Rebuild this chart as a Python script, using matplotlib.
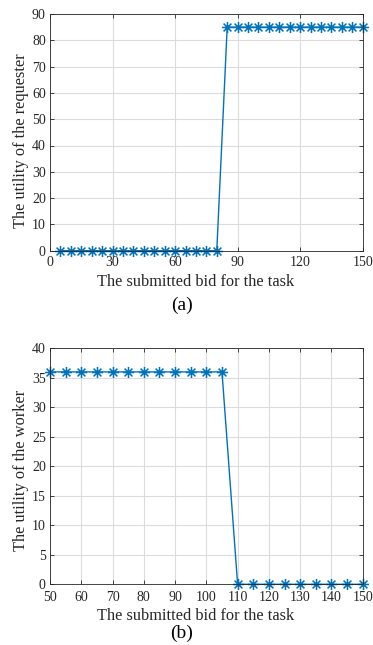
import matplotlib
matplotlib.use("Agg")
import matplotlib.pyplot as plt
from matplotlib.path import Path

plt.rcParams['font.family'] = ['Liberation Serif', 'DejaVu Serif']
plt.rcParams['mathtext.fontset'] = 'stix'

# Panel (a)
bid_a = [5, 10, 15, 20, 25, 30, 35, 40, 45, 50, 55, 60, 65, 70, 75, 80,
         85, 90, 95, 100, 105, 110, 115, 120, 125, 130, 135, 140, 145, 150]
util_a = [0]*16 + [85]*14
# Panel (b)
bid_b = [50, 55, 60, 65, 70, 75, 80, 85, 90, 95, 100, 105,
         110, 115, 120, 125, 130, 135, 140, 145, 150]
util_b = [36]*12 + [0]*9

xticks_a = [0, 30, 60, 90, 120, 150]
yticks_a = [0, 10, 20, 30, 40, 50, 60, 70, 80, 90]
xticks_b = [50, 60, 70, 80, 90, 100, 110, 120, 130, 140, 150]
yticks_b = [0, 5, 10, 15, 20, 25, 30, 35, 40]

# MATLAB-style asterisk marker (+ and x combined)
d = 0.7071
ast = Path([(-1, 0), (1, 0), (0, -1), (0, 1), (-d, -d), (d, d), (-d, d), (d, -d)],
           [Path.MOVETO, Path.LINETO] * 4)

color = '#0072BD'
fig = plt.figure(figsize=(3.73, 6.45), dpi=100)
W, H = 373, 645
LEFT, RIGHT = 50, 362.7

def make_ax(top_px, bottom_px):
    return fig.add_axes([LEFT / W, 1 - bottom_px / H,
                         (RIGHT - LEFT) / W, (bottom_px - top_px) / H])

panels = [(14, 250.7), (348.3, 584.3)]
ax1 = make_ax(*panels[0])
ax2 = make_ax(*panels[1])

def style(ax, xticks, yticks, xlim, ylim, ylabel, tag, box, ylab_cy, tick_top, xlab_top, tag_xy):
    top, bot = box
    h = bot - top
    ax.set_xlim(*xlim)
    ax.set_ylim(*ylim)
    ax.set_xticks(xticks)
    ax.set_yticks(yticks)
    ax.grid(True, color='#dcdcdc', linewidth=0.8)
    ax.set_axisbelow(True)
    ax.tick_params(direction='in', length=3, width=0.6, labelsize=10,
                   top=True, right=True, colors='#262626')
    ax.tick_params(axis='y', pad=3)
    # x tick label digit top at tick_top px: bbox top ~3px above digits
    ax.tick_params(axis='x', pad=(tick_top - 3 - bot) * 72 / 100)
    for s in ax.spines.values():
        s.set_linewidth(0.6)
        s.set_color('#262626')
    ax.set_ylabel(ylabel, fontsize=11.8, color='#262626', va='center')
    ax.yaxis.set_label_coords((21 - LEFT) / (RIGHT - LEFT), (bot - ylab_cy) / h)
    ax.set_xlabel('The submitted bid for the task', fontsize=11.8, color='#262626')
    ax.xaxis.set_label_coords((195.5 - LEFT) / (RIGHT - LEFT), (bot - (xlab_top - 3.7)) / h)
    fig.text(tag_xy[0] / W, 1 - tag_xy[1] / H, tag, ha='center', va='center',
             fontsize=14, color='#000000')

ax1.plot(bid_a, util_a, color=color, marker=ast, markersize=8, markeredgewidth=1.1,
         linewidth=1, clip_on=False)
style(ax1, xticks_a, yticks_a, (0, 150), (0, 90), 'The utility of the requester', '(a)',
      panels[0], 140.5, 259.3, 277.7, (182.5, 305.5))

ax2.plot(bid_b, util_b, color=color, marker=ast, markersize=8, markeredgewidth=1.1,
         linewidth=1, clip_on=False)
style(ax2, xticks_b, yticks_b, (50, 150), (0, 40), 'The utility of the worker', '(b)',
      panels[1], 470.8, 594, 611.7, (181.5, 633.5))

fig.savefig('out.png', dpi=100)
